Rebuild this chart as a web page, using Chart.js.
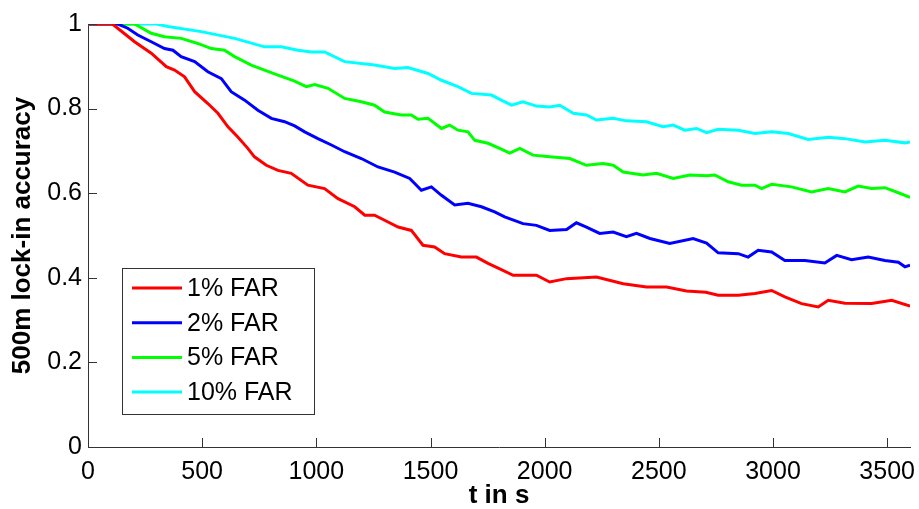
<!DOCTYPE html>
<html>
<head>
<meta charset="utf-8">
<script src="https://cdn.jsdelivr.net/npm/chart.js@4"></script>
<style>
  html, body { margin: 0; padding: 0; background: #fff; }
  #wrap { width: 919px; height: 509px; }
</style>
</head>
<body>
<div id="wrap"><canvas id="lockChart" width="919" height="509"></canvas></div>
<script>
// time (s) and lock-in accuracy per FAR setting
const seriesNames = ['1% FAR', '2% FAR', '5% FAR', '10% FAR'];
const seriesColors = ['#ff0000', '#0000ff', '#00ff00', '#00ffff'];

const tRed = [0, 107, 204, 277, 343, 379, 423, 467, 525, 569, 613, 656, 700, 729, 781, 832, 890, 963, 1036, 1095,
  1168, 1212, 1255, 1299, 1358, 1416, 1467, 1518, 1562, 1635, 1701, 1752, 1808, 1862, 1964, 2022, 2096, 2227, 2344, 2446,
  2534, 2621, 2706, 2760, 2848, 2921, 2994, 3052, 3125, 3198, 3242, 3315, 3432, 3520, 3600];
const far1 = [1, 1, 0.958, 0.931, 0.899, 0.891, 0.875, 0.840, 0.812, 0.789, 0.757, 0.733, 0.706, 0.686, 0.666, 0.654, 0.647, 0.619, 0.611, 0.587,
  0.568, 0.548, 0.548, 0.536, 0.520, 0.512, 0.477, 0.473, 0.457, 0.449, 0.449, 0.434, 0.420, 0.406, 0.406, 0.390, 0.398, 0.402, 0.386, 0.378,
  0.378, 0.369, 0.366, 0.359, 0.359, 0.363, 0.370, 0.355, 0.339, 0.331, 0.347, 0.340, 0.339, 0.347, 0.333];

const tBlue = [0, 131, 174, 218, 277, 335, 372, 408, 467, 525, 584, 627, 686, 744, 803, 861, 905, 949, 1007, 1066,
  1124, 1197, 1270, 1343, 1409, 1460, 1504, 1548, 1606, 1664, 1723, 1781, 1825, 1905, 1964, 2022, 2096, 2139, 2183, 2241,
  2300, 2358, 2402, 2461, 2548, 2650, 2709, 2760, 2848, 2891, 2935, 2994, 3052, 3140, 3227, 3279, 3344, 3417, 3490, 3549,
  3578, 3600];
const far2 = [1, 1, 0.990, 0.974, 0.958, 0.942, 0.938, 0.923, 0.911, 0.887, 0.871, 0.840, 0.820, 0.796, 0.777, 0.769, 0.759, 0.745, 0.729, 0.714,
  0.698, 0.682, 0.662, 0.650, 0.635, 0.607, 0.615, 0.595, 0.572, 0.576, 0.568, 0.556, 0.544, 0.528, 0.524, 0.512, 0.514, 0.530, 0.520, 0.505,
  0.508, 0.497, 0.505, 0.493, 0.481, 0.493, 0.482, 0.459, 0.457, 0.449, 0.465, 0.461, 0.441, 0.441, 0.435, 0.453, 0.443, 0.449, 0.441, 0.437,
  0.426, 0.430];

const tGreen = [0, 204, 277, 335, 408, 481, 540, 598, 642, 715, 773, 832, 905, 956, 993, 1051, 1124, 1197, 1255, 1299,
  1372, 1416, 1445, 1489, 1548, 1584, 1620, 1664, 1694, 1752, 1810, 1847, 1891, 1949, 2022, 2110, 2183, 2256, 2300, 2344,
  2431, 2490, 2563, 2636, 2709, 2745, 2804, 2862, 2921, 2950, 2994, 3081, 3169, 3242, 3315, 3373, 3432, 3490, 3549, 3600];
const far5 = [1, 1, 0.978, 0.970, 0.966, 0.954, 0.942, 0.938, 0.923, 0.903, 0.891, 0.879, 0.865, 0.852, 0.857, 0.848, 0.824, 0.816, 0.808, 0.792,
  0.785, 0.785, 0.775, 0.777, 0.753, 0.761, 0.749, 0.745, 0.725, 0.718, 0.704, 0.695, 0.706, 0.690, 0.686, 0.682, 0.666, 0.670, 0.666, 0.650,
  0.643, 0.647, 0.635, 0.643, 0.641, 0.643, 0.627, 0.619, 0.619, 0.611, 0.621, 0.615, 0.603, 0.611, 0.603, 0.617, 0.611, 0.613, 0.601, 0.590];

const tCyan = [0, 300, 350, 496, 642, 773, 847, 919, 978, 1036, 1124, 1255, 1343, 1401, 1489, 1548, 1620, 1679, 1767, 1810,
  1855, 1905, 1964, 2022, 2066, 2125, 2183, 2227, 2300, 2358, 2446, 2519, 2563, 2614, 2665, 2709, 2760, 2848, 2921, 2994,
  3067, 3154, 3242, 3315, 3403, 3490, 3578, 3600];
const far10 = [1, 1, 0.994, 0.982, 0.966, 0.946, 0.946, 0.938, 0.934, 0.934, 0.911, 0.903, 0.895, 0.897, 0.883, 0.867, 0.852, 0.836, 0.832, 0.820,
  0.808, 0.816, 0.806, 0.804, 0.808, 0.789, 0.785, 0.773, 0.777, 0.771, 0.769, 0.757, 0.761, 0.749, 0.753, 0.743, 0.751, 0.749, 0.741, 0.745,
  0.741, 0.727, 0.732, 0.729, 0.721, 0.725, 0.719, 0.721];

const xTicks = [0, 500, 1000, 1500, 2000, 2500, 3000, 3500];
const yTicks = [0, 0.2, 0.4, 0.6, 0.8, 1];

const FONT = "'Liberation Sans', Arial, Helvetica, sans-serif";
const AXIS_COLOR = '#333';

function toPoints(ts, vs) {
  return ts.map((t, i) => ({ x: t, y: vs[i] }));
}

const allTimes = [tRed, tBlue, tGreen, tCyan];
const allValues = [far1, far2, far5, far10];

// matlab style inward ticks + legend box inside the axes
const matlabBits = {
  id: 'matlabBits',
  afterDraw(chart) {
    const ctx = chart.ctx;
    const xs = chart.scales.x, ys = chart.scales.y;
    const area = chart.chartArea;
    ctx.save();
    ctx.strokeStyle = AXIS_COLOR;
    ctx.lineWidth = 1;
    ctx.beginPath();
    xTicks.forEach(v => {
      const px = Math.round(xs.getPixelForValue(v)) + 0.5;
      ctx.moveTo(px, area.bottom);
      ctx.lineTo(px, area.bottom - 9);
    });
    yTicks.forEach(v => {
      const py = Math.round(ys.getPixelForValue(v)) + 0.5;
      ctx.moveTo(area.left, py);
      ctx.lineTo(area.left + 9, py);
    });
    ctx.stroke();

    // legend
    const box = { x: 122.5, y: 268.5, w: 192, h: 146 };
    ctx.fillStyle = '#fff';
    ctx.fillRect(box.x, box.y, box.w, box.h);
    ctx.strokeStyle = '#333';
    ctx.strokeRect(box.x, box.y, box.w, box.h);
    ctx.font = '25px ' + FONT;
    ctx.textBaseline = 'middle';
    ctx.textAlign = 'left';
    chart.data.datasets.forEach((ds, i) => {
      const cy = 288 + i * 34.7;
      ctx.strokeStyle = ds.borderColor;
      ctx.lineWidth = 3;
      ctx.beginPath();
      ctx.moveTo(132, cy);
      ctx.lineTo(182, cy);
      ctx.stroke();
      ctx.fillStyle = '#000';
      ctx.fillText(ds.label, 187, cy + 1);
    });
    ctx.restore();
  }
};

const ctx = document.getElementById('lockChart');
new Chart(ctx, {
  type: 'line',
  data: {
    datasets: seriesNames.map((name, i) => ({
      label: name,
      data: toPoints(allTimes[i], allValues[i]),
      borderColor: seriesColors[i],
      backgroundColor: seriesColors[i],
      borderWidth: 3,
      pointRadius: 0,
      tension: 0,
      fill: false
    }))
  },
  options: {
    responsive: false,
    animation: false,
    layout: { padding: { top: 24, right: 9, left: 0, bottom: 0 } },
    plugins: {
      legend: { display: false },
      tooltip: { enabled: false }
    },
    scales: {
      x: {
        type: 'linear',
        min: 0,
        max: 3600,
        afterFit: s => { s.height = 62; s.paddingLeft = 0; s.paddingRight = 0; },
        afterBuildTicks: s => { s.ticks = xTicks.map(v => ({ value: v })); },
        border: { display: true, color: AXIS_COLOR, width: 1 },
        grid: { display: false, drawTicks: false },
        ticks: {
          maxRotation: 0,
          autoSkip: false,
          padding: 10,
          color: '#000',
          font: { family: FONT, size: 25 },
          callback: v => String(v)
        },
        title: {
          display: true,
          text: 't in s',
          color: '#000',
          padding: { top: 0, bottom: 0 },
          font: { family: FONT, size: 26, weight: 'bold', lineHeight: 1 }
        }
      },
      y: {
        min: 0,
        max: 1,
        afterFit: s => { s.width = 88; s.paddingTop = 0; s.paddingBottom = 0; },
        afterBuildTicks: s => { s.ticks = yTicks.map(v => ({ value: v })); },
        border: { display: true, color: AXIS_COLOR, width: 1 },
        grid: { display: false, drawTicks: false },
        ticks: {
          padding: 6,
          color: '#000',
          font: { family: FONT, size: 25 },
          callback: v => String(+v.toFixed(1))
        },
        title: {
          display: true,
          text: '500m lock-in accuracy',
          color: '#000',
          padding: { top: 10, bottom: 0 },
          font: { family: FONT, size: 26, weight: 'bold', lineHeight: 1 }
        }
      }
    }
  },
  plugins: [matlabBits]
});
</script>
</body>
</html>
